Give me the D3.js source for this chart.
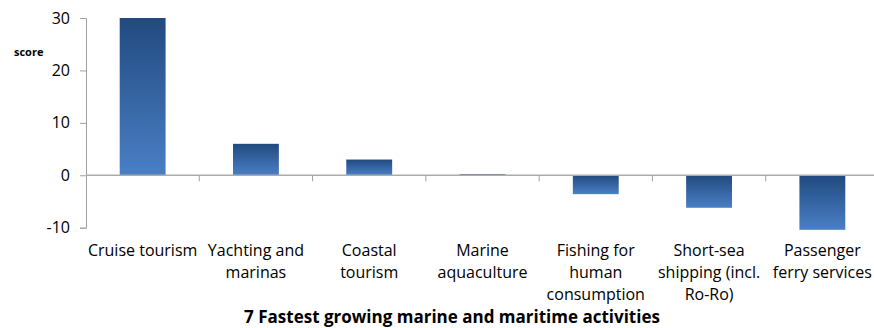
<!DOCTYPE html>
<html>
<head>
<meta charset="utf-8">
<script src="https://cdn.jsdelivr.net/npm/d3@7"></script>
<style>
  body { margin: 0; background: #fff; }
  svg text { font-family: "Open Sans", Lato, sans-serif; fill: #000; }
</style>
</head>
<body>
<div id="chart"></div>
<script>
// data
var categories = [
  "Cruise tourism",
  "Yachting and\nmarinas",
  "Coastal\ntourism",
  "Marine\naquaculture",
  "Fishing for\nhuman\nconsumption",
  "Short-sea\nshipping (incl.\nRo-Ro)",
  "Passenger\nferry services"
];
var scores = [30, 6.0, 3.0, 0.25, -3.6, -6.2, -10.4];
var yTicks = [-10, 0, 10, 20, 30];
var yLabel = "score";
var title = "7 Fastest growing marine and maritime activities";

var width = 874, height = 328;

var svg = d3.select("#chart").append("svg")
    .attr("width", width)
    .attr("height", height);

// gradient for the bars (dark on top, lighter below)
var grad = svg.append("defs").append("linearGradient")
    .attr("id", "barGrad")
    .attr("x1", 0).attr("y1", 0).attr("x2", 0).attr("y2", 1);
grad.append("stop").attr("offset", "0%").attr("stop-color", "#214a7f");
grad.append("stop").attr("offset", "100%").attr("stop-color", "#4a7fc6");

var x = d3.scaleBand()
    .domain(d3.range(categories.length))
    .range([86, 879])
    .padding(0);

var y = d3.scaleLinear()
    .domain([-10, 30])
    .range([227.7, 18]);

var barW = x.bandwidth() * 0.405;

// y axis
var yAxis = d3.axisLeft(y)
    .tickValues(yTicks)
    .tickSize(6)
    .tickPadding(10)
    .tickFormat(function(d) { return String(d); });

var gy = svg.append("g")
    .attr("transform", "translate(86,0)")
    .call(yAxis);
gy.select(".domain").attr("stroke", "#a0a0a0");
gy.selectAll(".tick line").attr("stroke", "#a0a0a0");
gy.selectAll(".tick text")
    .style("font-size", "16px")
    .attr("fill", "#000");

// bars
svg.selectAll("rect.bar")
    .data(scores)
    .enter().append("rect")
    .attr("class", "bar")
    .attr("x", function(d, i) { return x(i) + (x.bandwidth() - barW) / 2; })
    .attr("y", function(d) { return y(Math.max(0, d)); })
    .attr("width", barW)
    .attr("height", function(d) { return Math.abs(y(d) - y(0)); })
    .attr("fill", function(d) { return Math.abs(d) < 1 ? "#5c7a9e" : "url(#barGrad)"; });

// category axis along zero
var y0 = y(0);
svg.append("line")
    .attr("x1", 86).attr("x2", width)
    .attr("y1", y0).attr("y2", y0)
    .attr("stroke", "#acacac")
    .attr("stroke-width", 1.6);

svg.selectAll("line.xtick")
    .data(d3.range(1, categories.length))
    .enter().append("line")
    .attr("class", "xtick")
    .attr("x1", function(i) { return x(i); })
    .attr("x2", function(i) { return x(i); })
    .attr("y1", y0)
    .attr("y2", y0 + 6)
    .attr("stroke", "#a0a0a0");

// category labels
var lab = svg.selectAll("text.cat")
    .data(categories)
    .enter().append("text")
    .attr("class", "cat")
    .attr("text-anchor", "middle")
    .style("font-size", "16px");

lab.each(function(d, i) {
    var t = d3.select(this);
    d.split("\n").forEach(function(line, k) {
        t.append("tspan")
            .attr("x", x(i) + x.bandwidth() / 2)
            .attr("y", 256 + k * 22)
            .text(line);
    });
});

// y title
svg.append("text")
    .attr("x", 14)
    .attr("y", 56)
    .style("font-size", "11px")
    .style("font-weight", "bold")
    .text(yLabel);

// chart title
svg.append("text")
    .attr("x", 452)
    .attr("y", 323)
    .attr("text-anchor", "middle")
    .style("font-size", "17px")
    .style("font-weight", "bold")
    .text(title);
</script>
</body>
</html>
